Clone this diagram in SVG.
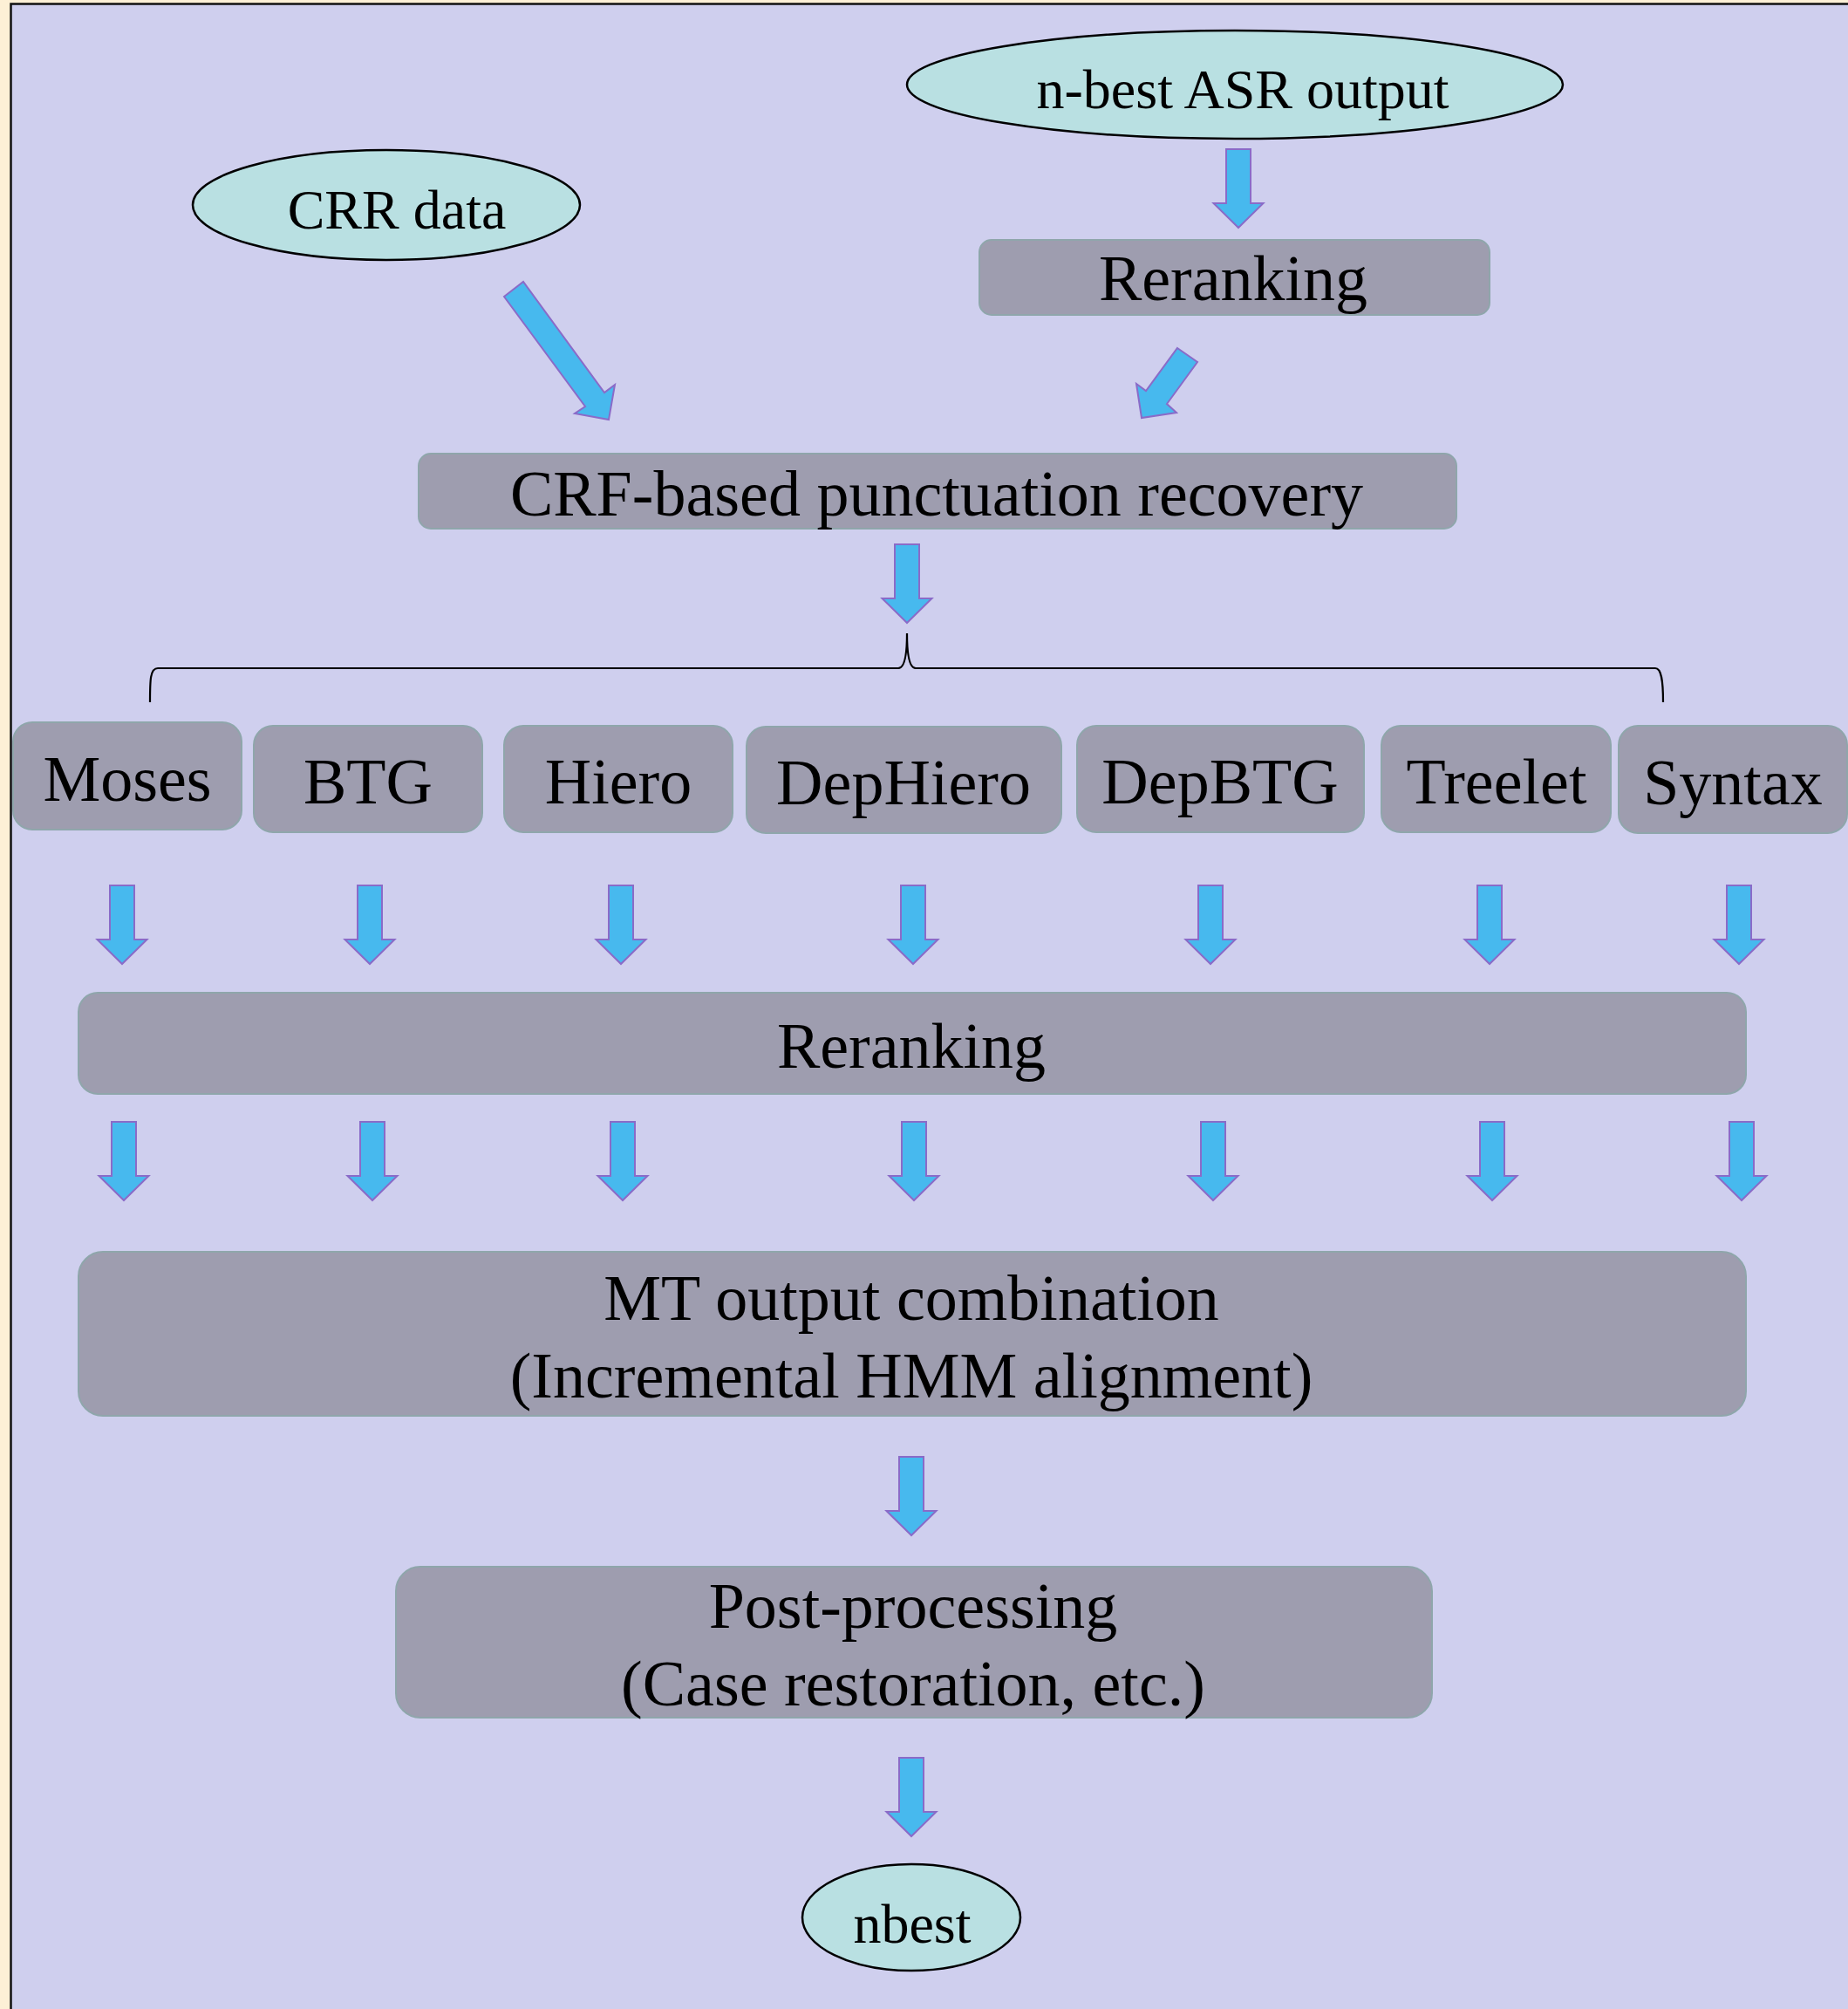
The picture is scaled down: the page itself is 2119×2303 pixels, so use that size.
<svg xmlns="http://www.w3.org/2000/svg" width="2119" height="2303" viewBox="0 0 2119 2303">
<style>
.box{fill:#9E9DAF;stroke:#8FA6AB;stroke-width:2}
.ell{fill:#B9E0E2;stroke:#000;stroke-width:2.5}
.t{font-family:"Liberation Serif","Times New Roman",serif;font-size:74px;fill:#000;text-anchor:middle}
.te{font-family:"Liberation Serif","Times New Roman",serif;font-size:64px;fill:#000;text-anchor:middle}
.arr{fill:#47B9EE;stroke:#8A6BC8;stroke-width:2;stroke-linejoin:miter}
</style>
<defs>
<path id="down" d="M-14,0 L14,0 L14,62 L28.5,62 L0,90 L-28.5,62 L-14,62 Z"/>
</defs>
<rect x="0" y="0" width="2119" height="2303" fill="#FDF0D6"/>
<rect x="12.5" y="4.5" width="2120" height="2310" fill="#CFCFEE" stroke="#111" stroke-width="2.5"/>

<g id="n-best-asr">
<ellipse class="ell" cx="1416" cy="97" rx="376" ry="62"/>
<text class="te" x="1425" y="124">n-best ASR output</text>
</g>
<g id="crr-data">
<ellipse class="ell" cx="443" cy="235" rx="222" ry="63"/>
<text class="te" x="455" y="262">CRR data</text>
</g>
<g id="reranking-top">
<rect class="box" x="1123" y="275" width="585" height="86" rx="14"/>
<text class="t" x="1414" y="344">Reranking</text>
</g>
<g id="crf">
<rect class="box" x="480" y="520" width="1190" height="86" rx="14"/>
<text class="t" x="1074" y="591">CRF-based punctuation recovery</text>
</g>
<g id="moses">
<rect class="box" x="15" y="828" width="262" height="123" rx="22"/>
<text class="t" x="146" y="918">Moses</text>
</g>
<g id="btg">
<rect class="box" x="291" y="832" width="262" height="122" rx="22"/>
<text class="t" x="422" y="921">BTG</text>
</g>
<g id="hiero">
<rect class="box" x="578" y="832" width="262" height="122" rx="22"/>
<text class="t" x="709" y="921">Hiero</text>
</g>
<g id="dephiero">
<rect class="box" x="856" y="833" width="361" height="122" rx="22"/>
<text class="t" x="1036" y="922">DepHiero</text>
</g>
<g id="depbtg">
<rect class="box" x="1235" y="832" width="329" height="122" rx="22"/>
<text class="t" x="1399" y="921">DepBTG</text>
</g>
<g id="treelet">
<rect class="box" x="1584" y="832" width="263" height="122" rx="22"/>
<text class="t" x="1716" y="921">Treelet</text>
</g>
<g id="syntax">
<rect class="box" x="1856" y="832" width="262" height="123" rx="22"/>
<text class="t" x="1987" y="922">Syntax</text>
</g>
<g id="reranking-main">
<rect class="box" x="90" y="1138" width="1912" height="116" rx="22"/>
<text class="t" x="1045" y="1224">Reranking</text>
</g>
<g id="mt-combination">
<rect class="box" x="90" y="1435" width="1912" height="188" rx="28"/>
<text class="t" x="1045" y="1513">MT output combination</text>
<text class="t" x="1045" y="1602">(Incremental HMM alignment)</text>
</g>
<g id="post-processing">
<rect class="box" x="454" y="1796" width="1188" height="173" rx="28"/>
<text class="t" x="1047" y="1866">Post-processing</text>
<text class="t" x="1047" y="1955">(Case restoration, etc.)</text>
</g>
<g id="nbest">
<ellipse class="ell" cx="1045" cy="2198" rx="125" ry="61"/>
<text class="te" x="1046" y="2227">nbest</text>
</g>

<g id="connectors">
<use href="#down" class="arr" x="1420" y="171"/>
<polygon class="arr" points="578,340 600,323 693,450 705,441 698,481 659,474 671,466"/>
<polygon class="arr" points="1350,399 1373,415 1338,463 1349,473 1309,479 1303,440 1314,448"/>
<use href="#down" class="arr" x="1040" y="624"/>
<path d="M172,805 C172,780 172,766 181,766 L1030,766 C1037,766 1040,752 1040,726 C1040,752 1043,766 1050,766 L1898,766 C1905,766 1907,780 1907,805" fill="none" stroke="#000" stroke-width="2.2"/>
<use href="#down" class="arr" x="140" y="1015"/>
<use href="#down" class="arr" x="424" y="1015"/>
<use href="#down" class="arr" x="712" y="1015"/>
<use href="#down" class="arr" x="1047" y="1015"/>
<use href="#down" class="arr" x="1388" y="1015"/>
<use href="#down" class="arr" x="1708" y="1015"/>
<use href="#down" class="arr" x="1994" y="1015"/>
<use href="#down" class="arr" x="142" y="1286"/>
<use href="#down" class="arr" x="427" y="1286"/>
<use href="#down" class="arr" x="714" y="1286"/>
<use href="#down" class="arr" x="1048" y="1286"/>
<use href="#down" class="arr" x="1391" y="1286"/>
<use href="#down" class="arr" x="1711" y="1286"/>
<use href="#down" class="arr" x="1997" y="1286"/>
<use href="#down" class="arr" x="1045" y="1670"/>
<use href="#down" class="arr" x="1045" y="2015"/>
</g>
</svg>
